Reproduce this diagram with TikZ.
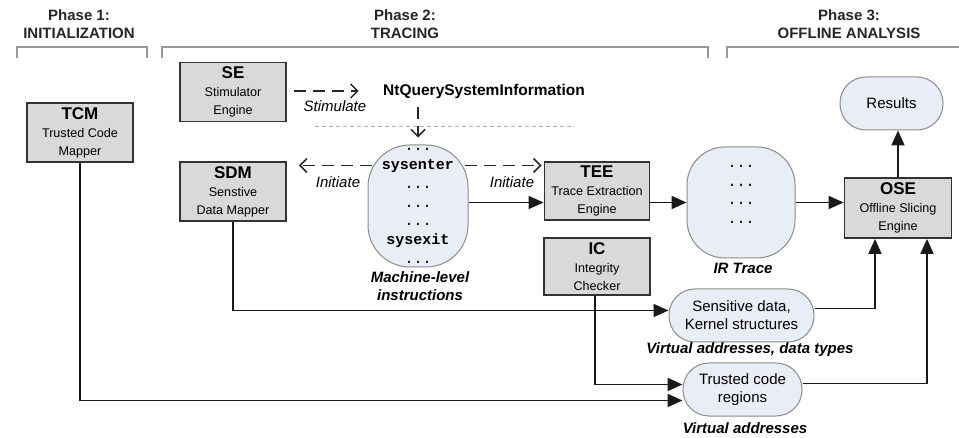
\documentclass[tikz,border=0pt]{standalone}
\usepackage{fontspec}
\setmainfont{Liberation Sans}
\setmonofont{Liberation Mono}
\usetikzlibrary{arrows.meta}

\definecolor{ovalfill}{RGB}{233,237,246}
\definecolor{ovaldraw}{RGB}{140,140,140}
\definecolor{boxfill}{RGB}{217,217,217}

\newcommand{\boxtitle}{\fontsize{17}{19}\selectfont\bfseries}
\newcommand{\boxsub}{\fontsize{12.6}{18}\selectfont}
\newcommand{\ovaltext}{\fontsize{15}{18}\selectfont}
\newcommand{\dotsfont}{\fontsize{15}{18.8}\selectfont\ttfamily}
\newcommand{\notefont}{\fontsize{15}{18}\selectfont\itshape}
\newcommand{\capfont}{\fontsize{15}{18}\selectfont\bfseries\itshape}
\newcommand{\phasefont}{\fontsize{15}{18}\selectfont\bfseries}
\newcommand{\ntfont}{\fontsize{15.5}{18}\selectfont\bfseries}

\tikzset{
  unit/.style={draw=black!80, line width=1.8pt, fill=boxfill, minimum width=106pt,
    minimum height=59pt, inner sep=1pt, align=center, font=\boxsub},
  oval/.style={draw=ovaldraw, line width=1pt, fill=ovalfill, rounded corners=26pt,
    minimum height=53pt, align=center, font=\ovaltext},
  flow/.style={line width=1.7pt, black!90, -{Triangle[length=15pt,width=13pt]}},
  dashflow/.style={line width=1.5pt, black!85, dash pattern=on 12pt off 7pt,
    -{Straight Barb[length=7pt,width=14pt]}},
  note/.style={font=\notefont},
  caption/.style={font=\capfont, align=center},
  phase/.style={font=\phasefont, text=black!85, align=center},
  bracket/.style={draw=black!40, line width=1.5pt},
  sepline/.style={draw=black!30, line width=1pt, dash pattern=on 4pt off 3pt},
}

\begin{document}
\begin{tikzpicture}[x=1pt, y=-1pt]

    \useasboundingbox (0,0) rectangle (959,438);

    % --- Phase headings ---
    \node[phase] (ph1) at (79,24) {Phase 1:\\INITIALIZATION};
    \node[phase] (ph2) at (405,24) {Phase 2:\\TRACING};
    \node[phase] (ph3) at (849,24) {Phase 3:\\OFFLINE ANALYSIS};

    \draw[bracket] (17,58) |- (147,47) -- (147,58);
    \draw[bracket] (162,58) |- (708,47) -- (708,58);
    \draw[bracket] (727,58) |- (959,47);

    % --- Engines ---
    \node[unit] (tcm) at (80,132.5) {{\boxtitle TCM}\\Trusted Code\\Mapper};
    \node[unit] (se) at (233,92) {{\boxtitle SE}\\Stimulator\\Engine};
    \node[unit] (sdm) at (233,191.5) {{\boxtitle SDM}\\Senstive\\Data Mapper};
    \node[unit, minimum width=105pt, minimum height=58pt] (tee) at (597,191) {{\boxtitle TEE}\\Trace Extraction\\Engine};
    \node[unit, minimum height=57pt] (ic) at (597,266.5) {{\boxtitle IC}\\Integrity\\Checker};
    \node[unit, minimum width=107pt, minimum height=60pt] (ose) at (898,208) {{\boxtitle OSE}\\Offline Slicing\\Engine};

    % --- System call and instruction stream ---
    \node[font=\ntfont] (nt) at (484,91) {NtQuerySystemInformation};
    \draw[sepline] (315,127) -- (575,127);

    \node[oval, minimum width=100pt, minimum height=122pt, rounded corners=42pt, font=\dotsfont] (mli) at (418,206)
      {...\\\textbf{sysenter}\\...\\...\\...\\\textbf{sysexit}\\...};
    \node[caption] (mlicap) at (420,286) {Machine-level\\instructions};

    % --- Trace and data ---
    \node[oval, minimum width=108pt, minimum height=111pt, rounded corners=38pt] (ir) at (741,202.5) {};
    \node[font=\dotsfont, align=center] (irdots) at ([yshift=8pt]ir.center) {...\\...\\...\\...};
    \node[caption] (ircap) at (743,268) {IR Trace};

    \node[oval, minimum width=103pt] (res) at (891.5,103.5) {Results};
    \node[oval, minimum width=145pt] (sens) at (741.5,315.5) {Sensitive data,\\Kernel structures};
    \node[caption] (senscap) at (750,350) {Virtual addresses, data types};
    \node[oval, minimum width=119pt] (trc) at (742.5,389.5) {Trusted code\\regions};
    \node[caption] (trccap) at (745,428) {Virtual addresses};

    % --- Dashed control arrows ---
    \draw[dashflow, shorten <=7pt, shorten >=21pt] (se.east |- nt.west) -- (nt.west);
    \node[note] (stim) at (335,106) {Stimulate};
    \draw[dashflow, shorten <=5pt, shorten >=7pt] (mli.north |- nt.south) -- (mli.north);

    \coordinate (initrow) at ([yshift=26pt]sdm.east);
    \draw[dashflow, shorten <=-4pt, shorten >=12pt] (initrow -| mli.west) -- (initrow);
    \draw[dashflow, shorten <=-4pt, shorten >=2pt] (initrow -| mli.east) -- (initrow -| tee.west);
    \node[note] (initl) at (338,182) {Initiate};
    \node[note] (initr) at (512,182) {Initiate};

    % --- Data flow ---
    \draw[flow] (mli.east |- ir.west) -- (tee.west |- ir.west);
    \draw[flow] (tee.east |- ir.west) -- (ir.west);
    \draw[flow] (ir.east) -- (ose.west |- ir.east);
    \draw[flow] (ose.north) -- (ose.north |- res.south);

    \draw[flow] (sdm.south) |- ([yshift=5pt]sens.west);
    \draw[flow] (tcm.south) |- ([yshift=-11pt]trc.west);
    \draw[flow] ([xshift=-2pt]ic.south) |- ([yshift=5pt]trc.west);
    \draw[flow] ([yshift=7pt]sens.east) -| ([xshift=-23pt]ose.south);
    \draw[flow] ([yshift=6pt]trc.east) -| ([xshift=29pt]ose.south);

\end{tikzpicture}
\end{document}
